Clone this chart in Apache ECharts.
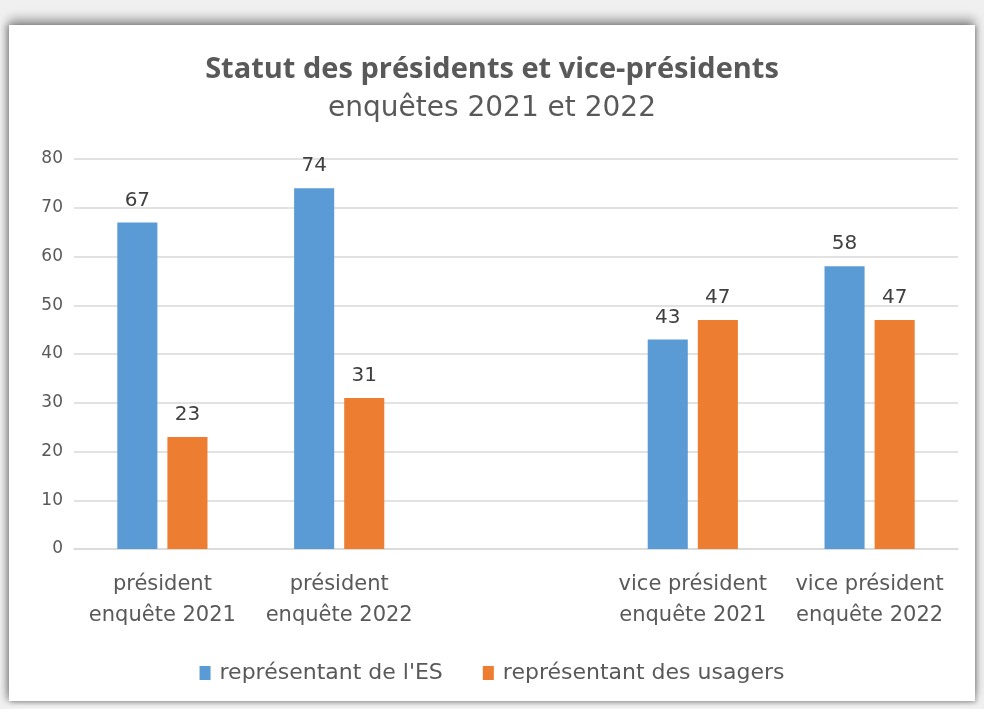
<!DOCTYPE html>
<html>
<head>
<meta charset="utf-8">
<script src="https://cdn.jsdelivr.net/npm/echarts@6/dist/echarts.min.js"></script>
<style>
  html, body { margin: 0; padding: 0; background: #f0f0f0; }
  #panel {
    position: absolute; left: 9px; top: 25px; width: 966px; height: 676px;
    background: #fff; box-shadow: 0 -6px 10px rgba(0,0,0,0.35), -3px 0 6px rgba(0,0,0,0.25), 2px 2px 4px rgba(0,0,0,0.2);
  }
  #chart { position: absolute; left: 0; top: 0; width: 984px; height: 709px; }
</style>
</head>
<body>
<div id="panel"></div>
<div id="chart"></div>
<script>
var categories = ['président\nenquête 2021', 'président\nenquête 2022', '', 'vice président\nenquête 2021', 'vice président\nenquête 2022'];
var seriesNames = ["représentant de l'ES", 'représentant des usagers'];
var esValues = [67, 74, null, 43, 58];
var usagersValues = [23, 31, null, 47, 47];

var myChart = echarts.init(document.getElementById('chart'));
var font = 'DejaVu Sans';

myChart.setOption({
  color: ['#5b9bd5', '#ed7d31'],
  title: {
    text: 'Statut des présidents et vice-présidents',
    subtext: 'enquêtes 2021 et 2022',
    left: 'center',
    top: 50,
    itemGap: 11,
    textStyle: { fontFamily: 'Open Sans', fontSize: 29, fontWeight: 'bold', color: '#595959' },
    subtextStyle: { fontFamily: font, fontSize: 28, color: '#595959' }
  },
  grid: { left: 74, right: 26, top: 159, bottom: 160 },
  legend: {
    data: seriesNames,
    top: 657,
    left: 'center',
    itemWidth: 11,
    itemHeight: 14,
    itemGap: 40,
    icon: 'rect',
    textStyle: { fontFamily: font, fontSize: 22, color: '#595959', padding: [0, 0, 0, 4] }
  },
  xAxis: {
    type: 'category',
    data: categories,
    axisTick: { show: false },
    axisLine: { lineStyle: { color: '#d9d9d9', width: 1.5 } },
    axisLabel: { fontFamily: font, fontSize: 21, color: '#595959', lineHeight: 31, margin: 20, interval: 0 }
  },
  yAxis: {
    type: 'value',
    min: 0,
    max: 80,
    interval: 10,
    axisLine: { show: false },
    axisTick: { show: false },
    splitLine: { lineStyle: { color: '#d9d9d9', width: 1.5 } },
    axisLabel: { fontFamily: font, fontSize: 17, color: '#595959', margin: 11 }
  },
  series: [
    {
      name: seriesNames[0], type: 'bar', data: esValues,
      barGap: '25%', barCategoryGap: '49%',
      label: { show: true, position: 'top', distance: 12, fontFamily: font, fontSize: 20, color: '#404040' }
    },
    {
      name: seriesNames[1], type: 'bar', data: usagersValues,
      label: { show: true, position: 'top', distance: 12, fontFamily: font, fontSize: 20, color: '#404040' }
    }
  ]
});
</script>
</body>
</html>
